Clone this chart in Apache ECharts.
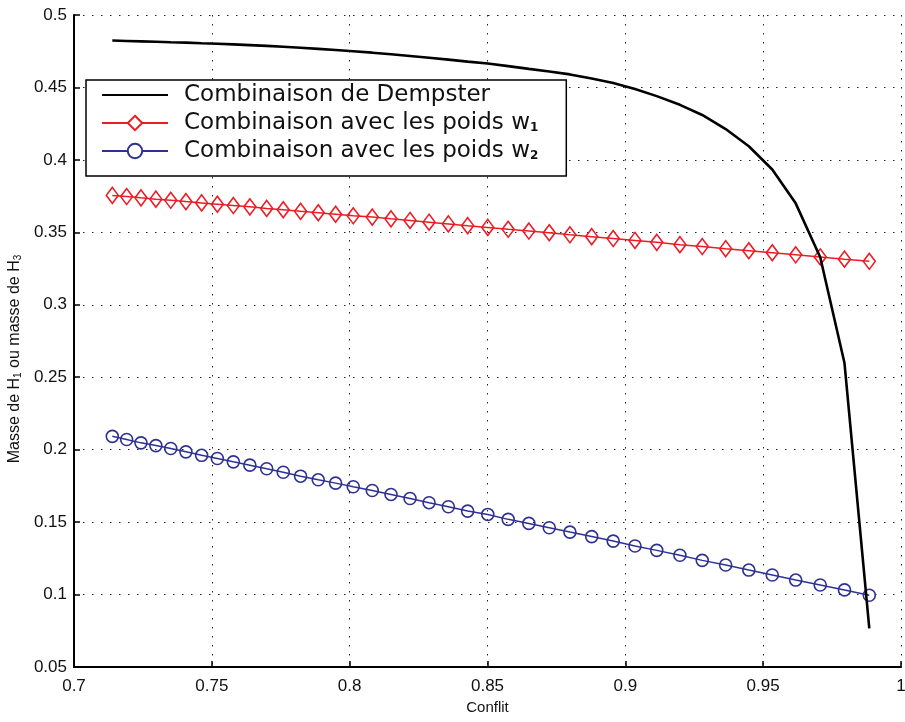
<!DOCTYPE html>
<html>
<head>
<meta charset="utf-8">
<script src="https://cdn.jsdelivr.net/npm/echarts@6/dist/echarts.min.js"></script>
<style>
html,body{margin:0;padding:0;background:#fff;}
#chart{width:905px;height:722px;}
</style>
</head>
<body>
<div id="chart"></div>
<script>
const conflit = [0.7139,0.7191,0.7243,0.7297,0.7351,0.7406,0.7463,0.7520,0.7578,0.7638,0.7699,0.7759,0.7822,0.7886,0.7949,0.8013,0.8082,0.8150,0.8219,0.8288,0.8358,0.8428,0.8501,0.8575,0.8650,0.8724,0.8799,0.8878,0.8956,0.9035,0.9114,0.9198,0.9279,0.9364,0.9448,0.9533,0.9618,0.9707,0.9795,0.9885];
const dempster = [0.4824,0.4821,0.4818,0.4815,0.4812,0.4809,0.4805,0.4802,0.4797,0.4792,0.4787,0.4781,0.4774,0.4766,0.4758,0.4750,0.4740,0.4729,0.4717,0.4705,0.4692,0.4678,0.4665,0.4647,0.4628,0.4610,0.4590,0.4562,0.4530,0.4490,0.4440,0.4380,0.4310,0.4213,0.4094,0.3934,0.3700,0.3328,0.2598,0.0766];
const poidsW1 = [0.3755,0.3747,0.3738,0.3729,0.3721,0.3712,0.3703,0.3694,0.3685,0.3676,0.3665,0.3656,0.3645,0.3635,0.3625,0.3614,0.3605,0.3593,0.3582,0.3570,0.3558,0.3546,0.3534,0.3521,0.3509,0.3497,0.3483,0.3470,0.3457,0.3444,0.3431,0.3415,0.3402,0.3387,0.3373,0.3359,0.3345,0.3330,0.3315,0.3300];
const poidsW2 = [0.2092,0.2070,0.2047,0.2028,0.2008,0.1985,0.1961,0.1939,0.1916,0.1893,0.1868,0.1844,0.1817,0.1792,0.1769,0.1744,0.1718,0.1691,0.1663,0.1634,0.1606,0.1576,0.1553,0.1519,0.1491,0.1461,0.1431,0.1400,0.1369,0.1335,0.1305,0.1271,0.1236,0.1204,0.1169,0.1135,0.1100,0.1066,0.1032,0.0995];
const xTicks = [0.7,0.75,0.8,0.85,0.9,0.95,1];
const yTicks = [0.05,0.1,0.15,0.2,0.25,0.3,0.35,0.4,0.45,0.5];
const seriesNames = ['Combinaison de Dempster','Combinaison avec les poids w1','Combinaison avec les poids w2'];

const zip = (xs, ys) => xs.map((x, i) => [x, ys[i]]);
const RED = '#ec1c24';
const BLUE = '#2e3192';
const gridLine = {show:true, showMinLine:true, showMaxLine:true, lineStyle:{color:'#222', width:1, type:[1.5,7.5]}};
const chart = echarts.init(document.getElementById('chart'), null, {renderer:'canvas'});
chart.setOption({
  animation:false,
  backgroundColor:'#fff',
  grid:{left:74, right:4, top:15, bottom:55, containLabel:false, outerBoundsMode:'none'},
  xAxis:{
    type:'value', min:xTicks[0], max:xTicks[xTicks.length-1], interval:0.05,
    name:'Conflit', nameLocation:'middle', nameGap:32,
    nameTextStyle:{fontFamily:'Liberation Sans', fontSize:15, color:'#111'},
    axisLine:{show:true, onZero:false, lineStyle:{color:'#000', width:2}},
    axisTick:{show:true, inside:true, length:6, lineStyle:{color:'#000', width:1.5}},
    axisLabel:{fontFamily:'Liberation Sans', fontSize:17, color:'#111', margin:11},
    splitLine:gridLine
  },
  yAxis:{
    type:'value', min:yTicks[0], max:yTicks[yTicks.length-1], interval:0.05,
    name:'Masse de H{s|1} ou masse de H{s|3}', nameLocation:'middle', nameGap:50, nameRotate:90,
    nameTextStyle:{fontFamily:'Liberation Sans', fontSize:16, color:'#111', padding:[0,36,0,0],
      rich:{s:{fontFamily:'Liberation Sans', fontSize:10, color:'#111', padding:[6,0,0,0]}}},
    axisLine:{show:true, onZero:false, lineStyle:{color:'#000', width:2}},
    axisTick:{show:true, inside:true, length:6, lineStyle:{color:'#000', width:1.5}},
    axisLabel:{fontFamily:'Liberation Sans', fontSize:17, color:'#111', margin:7},
    splitLine:gridLine
  },
  legend:{
    left:86, top:80, orient:'vertical',
    backgroundColor:'#fff', borderColor:'#000', borderWidth:1.5,
    padding:[3,28,13,15], itemGap:4, itemWidth:66, itemHeight:18,
    data:[
      {name:seriesNames[0], itemStyle:{opacity:0}},
      {name:seriesNames[1], itemStyle:{color:'#fff'}},
      {name:seriesNames[2], itemStyle:{color:'#fff'}}
    ],
    formatter: n => n.replace(/w([12])$/, 'w{s|$1}'),
    textStyle:{fontFamily:'DejaVu Sans', fontSize:23, color:'#111', lineHeight:24, padding:[0,0,0,11],
      rich:{s:{fontFamily:'DejaVu Sans', fontSize:12, fontWeight:'bold', color:'#111', padding:[10,0,0,0]}}}
  },
  series:[
    {
      name:seriesNames[0], type:'line', data:zip(conflit, dempster),
      showSymbol:false, symbol:'none',
      lineStyle:{color:'#000', width:2.6}, itemStyle:{color:'#000'}, z:3
    },
    {
      name:seriesNames[1], type:'line', data:zip(conflit, poidsW1),
      symbol:'diamond', symbolSize:[12,16], showSymbol:true,
      lineStyle:{color:RED, width:1.5},
      itemStyle:{color:'rgba(255,255,255,0)', borderColor:RED, borderWidth:1.6}, z:2
    },
    {
      name:seriesNames[2], type:'line', data:zip(conflit, poidsW2),
      symbol:'circle', symbolSize:12, showSymbol:true,
      lineStyle:{color:BLUE, width:1.5},
      itemStyle:{color:'rgba(255,255,255,0)', borderColor:BLUE, borderWidth:1.6}, z:2
    }
  ]
});
</script>
</body>
</html>
